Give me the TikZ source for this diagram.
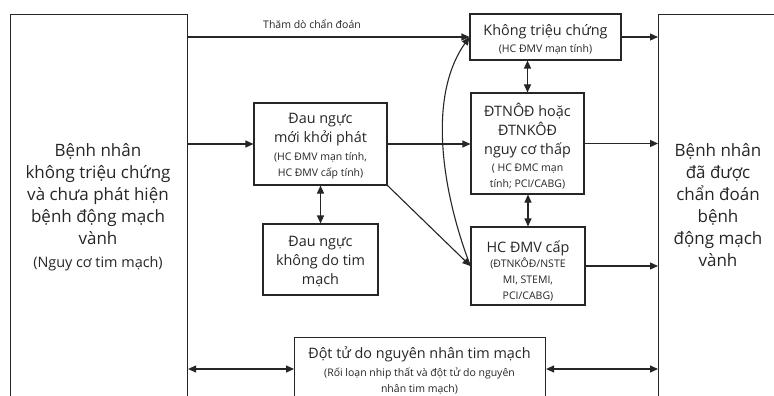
\documentclass[tikz,border=0pt]{standalone}
\usepackage{fontspec}
\setmainfont{Open Sans}
\usetikzlibrary{arrows.meta}
\newcommand{\bigf}{\fontsize{17}{22}\selectfont}
\newcommand{\midf}{\fontsize{14.4}{19}\selectfont}
\newcommand{\smf}{\fontsize{10.5}{15.5}\selectfont}
\begin{document}
\begin{tikzpicture}[x=1pt,y=-1pt,
  box/.style={draw=black!85,line width=1.1pt,rectangle,inner sep=0pt},
  txt/.style={inner sep=0pt,align=center,text=black!85,font=\midf},
  arr/.style={draw=black!85,line width=1.1pt,-{Triangle[length=8pt,width=7pt]}},
  dbl/.style={draw=black!85,line width=1.1pt,{Triangle[length=8pt,width=7pt]}-{Triangle[length=8pt,width=7pt]}}]
\useasboundingbox (0,0) rectangle (774,396);
\fill[white] (0,0) rectangle (774,396);
\clip (0,0) rectangle (774,396);
% big side boxes
\node[box,anchor=north west,minimum width=177pt,minimum height=420pt] (L) at (10,14) {};
\node[txt,font=\bigf] (Lt) at (98,207) {Bệnh nhân\\ không triệu chứng\\ và chưa phát hiện\\ bệnh động mạch\\ vành\\[1pt] \midf (Nguy cơ tim mạch)};
\node[box,anchor=north west,minimum width=160pt,minimum height=420pt] (R) at (658,14) {};
\node[txt,font=\bigf] (Rt) at (718,205) {Bệnh nhân\\ đã được\\ chẩn đoán\\ bệnh\\ động mạch\\ vành};
% inner boxes
\node[box,minimum width=151pt,minimum height=46pt] (KTC) at (545.5,37) {};
\node[txt] (KTCt) at (545.5,39) {Không triệu chứng\\[-2pt] \smf (HC ĐMV mạn tính)};
\node[box,minimum width=133pt,minimum height=82pt] (DN) at (320.5,144) {};
\node[txt] (DNt) at (320.5,146.5) {Đau ngực\\ mới khởi phát\\[-1pt] \smf (HC ĐMV mạn tính,\\[-3pt] \smf HC ĐMV cấp tính)};
\node[box,minimum width=115pt,minimum height=71pt] (KD) at (320.5,259.5) {};
\node[txt] (KDt) at (320.5,261.5) {Đau ngực\\ không do tim\\ mạch};
\node[box,minimum width=113pt,minimum height=101pt] (TN) at (527.5,143.5) {};
\node[txt] (TNt) at (527.5,146.5) {ĐTNÔĐ hoặc\\ ĐTNKÔĐ\\ nguy cơ thấp\\[-2pt] \smf ( HC ĐMC mạn\\[-3pt] \smf tính; PCI/CABG)};
\node[box,minimum width=114pt,minimum height=78pt] (HC) at (528,266) {};
\node[txt] (HCt) at (528,271) {HC ĐMV cấp\\[-4pt] \smf (ĐTNKÔĐ/NSTE\\[-3pt] \smf MI, STEMI,\\[-3pt] \smf PCI/CABG)};
\node[box,anchor=north west,minimum width=251pt,minimum height=80pt] (DT) at (294,337) {};
\node[txt] (DTt) at (419.5,370) {Đột tử do nguyên nhân tim mạch\\[-1pt] \smf (Rối loạn nhip thất và đột tử do nguyên\\[-3pt] \smf nhân tim mạch)};
\coordinate (dty) at (0,369);
% connectors
\draw[arr] (L.east |- KTC.west) -- (KTC.west);
\node[txt,font=\smf] (lab) at (312,24) {Thăm dò chẩn đoán};
\draw[arr] (KTC.east) -- (KTC.east -| R.west);
\draw[dbl] (TN.north) -- (TN.north |- KTC.south);
\draw[arr] (L.east |- DN.west) -- (DN.west);
\draw[arr] (DN.east) -- (DN.east -| TN.west);
\draw[arr] (TN.east) -- (TN.east -| R.west);
\draw[dbl] (DN.south) -- (KD.north);
\draw[arr] (DN.south east) -- (HC.west);
\draw[arr] (HC.west) .. controls (445,200) and (425,100) .. (KTC.west);
\draw[dbl] (HC.north) -- (HC.north |- TN.south);
\draw[arr] (HC.east) -- (HC.east -| R.west);
\draw[dbl] (L.east |- dty) -- (DT.west |- dty);
\draw[dbl] (DT.east |- dty) -- (R.west |- dty);
\end{tikzpicture}
\end{document}
